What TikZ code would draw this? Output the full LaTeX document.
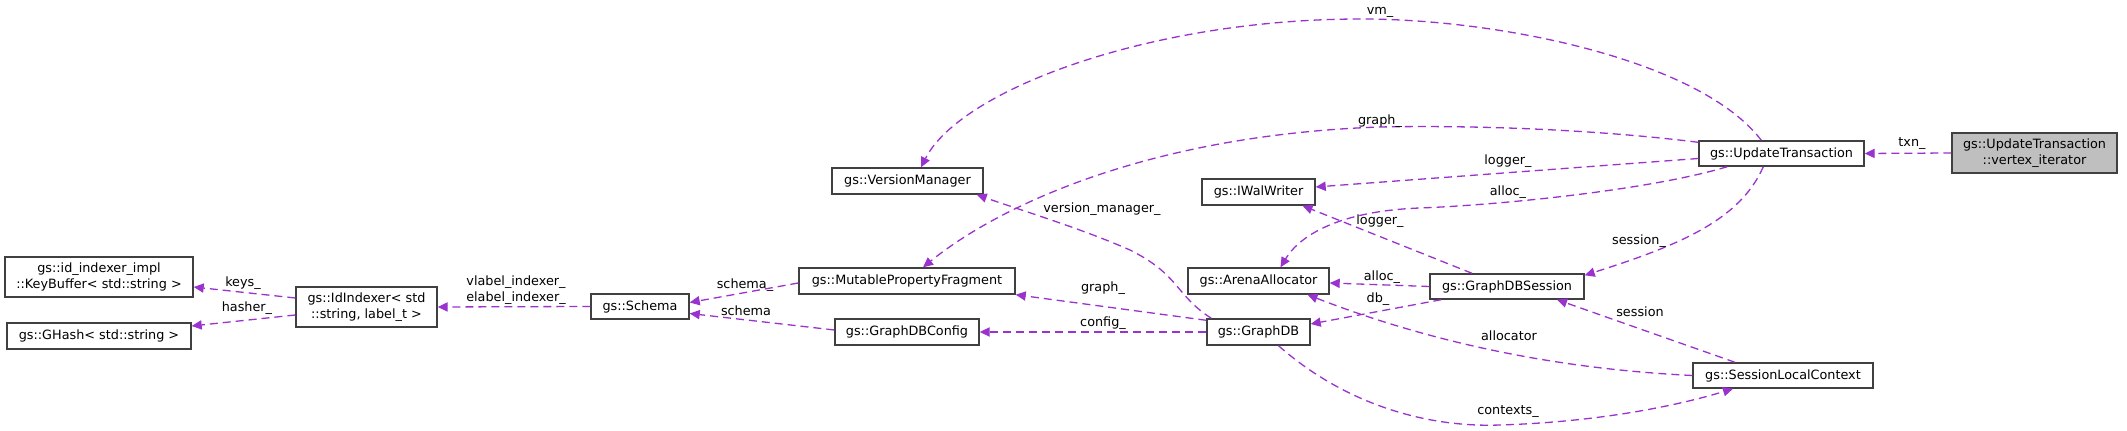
\documentclass[tikz,border=0pt]{standalone}
\usepackage{fontspec}
\setmainfont{DejaVu Sans}
\usetikzlibrary{arrows.meta,calc}
\definecolor{edgec}{HTML}{9A32CD}
\definecolor{boxc}{HTML}{404040}
\definecolor{fillc}{HTML}{BFBFBF}
\begin{document}
\begin{tikzpicture}[x=0.5pt,y=-0.5pt,
  box/.style={draw=boxc,line width=0.7pt,fill=white,inner sep=0pt,align=center,
    font=\fontsize{6.4}{7.8}\selectfont},
  lbl/.style={inner sep=0pt,align=center,font=\fontsize{6.4}{7.8}\selectfont},
  edge/.style={draw=edgec,line width=0.65pt,dash pattern=on 4pt off 2.5pt,
    -{Triangle[length=5pt,width=4.6pt]}},
]
\useasboundingbox (0,0) rectangle (2127,431);
% nodes
\node[box,minimum width=94pt,minimum height=20pt] (KB) at (99,277) {gs::id\_indexer\_impl\\::KeyBuffer< std::string >};
\node[box,minimum width=92pt,minimum height=13pt] (GH) at (99,336) {gs::GHash< std::string >};
\node[box,minimum width=70.5pt,minimum height=20pt] (IdI) at (366.5,307) {gs::IdIndexer< std\\::string, label\_t >};
\node[box,minimum width=49pt,minimum height=12.5pt] (Schema) at (640,306.5) {gs::Schema};
\node[box,minimum width=108pt,minimum height=13pt] (MPF) at (907,281) {gs::MutablePropertyFragment};
\node[box,minimum width=72pt,minimum height=13pt] (GDBC) at (907,332) {gs::GraphDBConfig};
\node[box,minimum width=75.5pt,minimum height=13pt] (VM) at (907.5,181) {gs::VersionManager};
\node[box,minimum width=56.5pt,minimum height=13pt] (IWW) at (1258.5,192) {gs::IWalWriter};
\node[box,minimum width=70.5pt,minimum height=13pt] (AA) at (1258.5,281) {gs::ArenaAllocator};
\node[box,minimum width=51.5pt,minimum height=13pt] (GDB) at (1258.5,332) {gs::GraphDB};
\node[box,minimum width=77pt,minimum height=12.5pt] (GDBS) at (1507,286.5) {gs::GraphDBSession};
\node[box,minimum width=82.5pt,minimum height=12.5pt] (UT) at (1781.5,153.5) {gs::UpdateTransaction};
\node[box,fill=fillc,minimum width=82.5pt,minimum height=20pt] (VI) at (2034.5,153) {gs::UpdateTransaction\\::vertex\_iterator};
\node[box,minimum width=90pt,minimum height=12.5pt] (SLC) at (1783,375.5) {gs::SessionLocalContext};
% edges
\draw[edge] (VI.west) -- (UT.east);
\draw[edge] ($(UT.north west)+(63,0)$) .. controls (1700,60) and (1500,19) .. (1361,19)
   .. controls (1150,19) and (960,90) .. ($(VM.north)+(13.5,0)$);
\draw[edge] ($(UT.north west)+(0,2)$) .. controls (1600,130) and (1480,125) .. (1380,127)
   .. controls (1150,135) and (1000,205) .. ($(MPF.north)+(16,0)$);
\draw[edge] ($(UT.west)+(0,5)$) -- ($(IWW.east)+(0,-5)$);
\draw[edge] ($(UT.south west)+(29,0)$) .. controls (1650,190) and (1500,205) .. (1420,208)
   .. controls (1340,211) and (1300,235) .. ($(AA.north)+(22,0)$);
\draw[edge] ($(UT.south west)+(65,0)$) .. controls (1740,220) and (1680,245) .. ($(GDBS.north east)+(0,2)$);
\draw[edge] ($(GDBS.north)+(-35,0)$) -- ($(IWW.south)+(44,0)$);
\draw[edge] (GDBS.west) -- ($(AA.east)+(0,2)$);
\draw[edge] ($(GDBS.south west)+(12,0)$) -- ($(GDB.east)+(0,-8)$);
\draw[edge] ($(GDB.north west)+(5,0)$) .. controls (1175,295) and (1180,275) .. (1130,250)
   .. controls (1080,228) and (1020,210) .. ($(VM.south east)+(-7,0)$);
\draw[edge] ($(GDB.north west)+(0,2)$) -- (MPF.south east);
\draw[edge] (GDB.west) -- (GDBC.east);
\draw[edge] ($(GDB.south)+(20,0)$) .. controls (1340,400) and (1420,428) .. (1500,425)
   .. controls (1600,422) and (1680,405) .. ($(SLC.south)+(-50,0)$);
\draw[edge] ($(SLC.north)+(-48,0)$) -- ($(GDBS.south)+(50,0)$);
\draw[edge] (SLC.west) .. controls (1580,370) and (1450,350) .. ($(AA.south)+(49,0)$);
\draw[edge] ($(MPF.west)+(0,2)$) -- ($(Schema.east)+(0,-4)$);
\draw[edge] ($(GDBC.west)+(0,-2)$) -- ($(Schema.east)+(0,7)$);
\draw[edge] (Schema.west) -- (IdI.east);
\draw[edge] ($(IdI.west)+(0,-9)$) -- ($(KB.east)+(0,10)$);
\draw[edge] ($(IdI.west)+(0,8)$) -- ($(GH.east)+(0,-10)$);
% labels
\node[lbl] (l1) at (1912,144) {txn\_};
\node[lbl] (l2) at (1380,12) {vm\_};
\node[lbl] (l3) at (1380,121) {graph\_};
\node[lbl] (l4) at (1508,161) {logger\_};
\node[lbl] (l5) at (1508,192) {alloc\_};
\node[lbl] (l6) at (1639,241) {session\_};
\node[lbl] (l7) at (1380,221) {logger\_};
\node[lbl] (l8) at (1382,277) {alloc\_};
\node[lbl] (l9) at (1378,299) {db\_};
\node[lbl] (l10) at (1102,209) {version\_manager\_};
\node[lbl] (l11) at (1103,288) {graph\_};
\node[lbl] (l12) at (1103,323) {config\_};
\node[lbl] (l13) at (1508,412) {contexts\_};
\node[lbl] (l14) at (1640,312) {session};
\node[lbl] (l15) at (1509,336) {allocator};
\node[lbl] (l16) at (745,285) {schema\_};
\node[lbl] (l17) at (746,311) {schema};
\node[lbl] (l18) at (516,290) {vlabel\_indexer\_\\elabel\_indexer\_};
\node[lbl] (l19) at (243,283) {keys\_};
\node[lbl] (l20) at (247,308) {hasher\_};
\end{tikzpicture}
\end{document}
